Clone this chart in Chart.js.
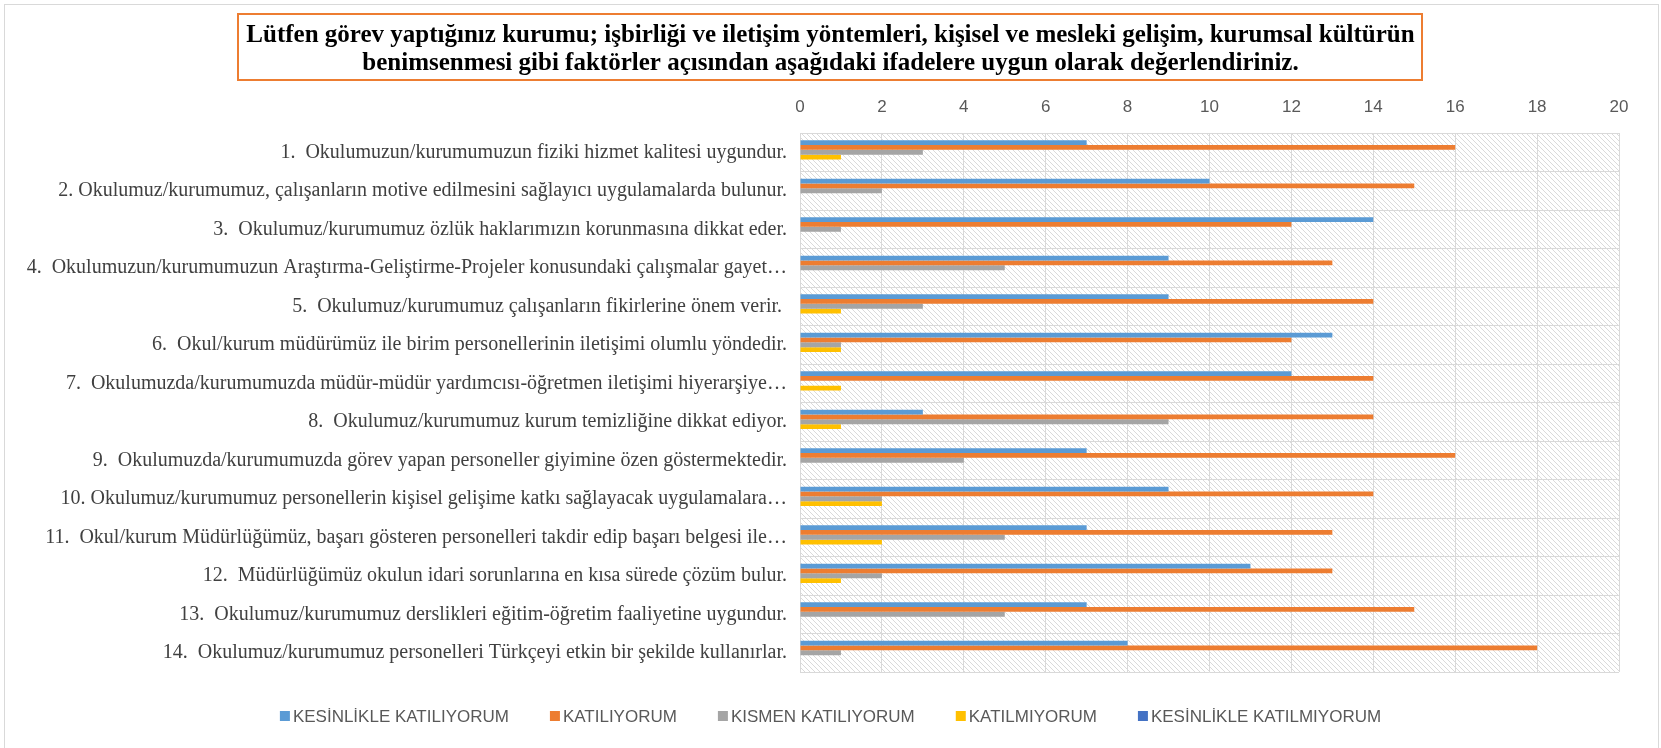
<!DOCTYPE html>
<html lang="tr">
<head>
<meta charset="utf-8">
<title>Kurum değerlendirmesi</title>
<script src="https://cdn.jsdelivr.net/npm/chart.js@4.4.1/dist/chart.umd.min.js"></script>
<style>
  html, body { margin: 0; padding: 0; background: #fff; }
  #wrap { width: 1661px; height: 748px; }
</style>
</head>
<body>
<div id="wrap"><canvas id="grafik" width="1661" height="748"></canvas></div>
<script>
// Anket sonuçları - 14 ifade, 5 seçenek

const basliklar = [
    'Lütfen görev yaptığınız kurumu; işbirliği ve iletişim yöntemleri, kişisel ve mesleki gelişim, kurumsal kültürün',
    'benimsenmesi gibi faktörler açısından aşağıdaki ifadelere uygun olarak değerlendiriniz.'
];

const ifadeler = [
    '1.  Okulumuzun/kurumumuzun fiziki hizmet kalitesi uygundur.',
    '2. Okulumuz/kurumumuz, çalışanların motive edilmesini sağlayıcı uygulamalarda bulunur.',
    '3.  Okulumuz/kurumumuz özlük haklarımızın korunmasına dikkat eder.',
    '4.  Okulumuzun/kurumumuzun Araştırma-Geliştirme-Projeler konusundaki çalışmalar gayet…',
    '5.  Okulumuz/kurumumuz çalışanların fikirlerine önem verir. ',
    '6.  Okul/kurum müdürümüz ile birim personellerinin iletişimi olumlu yöndedir.',
    '7.  Okulumuzda/kurumumuzda müdür-müdür yardımcısı-öğretmen iletişimi hiyerarşiye…',
    '8.  Okulumuz/kurumumuz kurum temizliğine dikkat ediyor.',
    '9.  Okulumuzda/kurumumuzda görev yapan personeller giyimine özen göstermektedir.',
    '10. Okulumuz/kurumumuz personellerin kişisel gelişime katkı sağlayacak uygulamalara…',
    '11.  Okul/kurum Müdürlüğümüz, başarı gösteren personelleri takdir edip başarı belgesi ile…',
    '12.  Müdürlüğümüz okulun idari sorunlarına en kısa sürede çözüm bulur.',
    '13.  Okulumuz/kurumumuz derslikleri eğitim-öğretim faaliyetine uygundur.',
    '14.  Okulumuz/kurumumuz personelleri Türkçeyi etkin bir şekilde kullanırlar.'
];

const secenekler = ['KESİNLİKLE KATILIYORUM', 'KATILIYORUM', 'KISMEN KATILIYORUM', 'KATILMIYORUM', 'KESİNLİKLE KATILMIYORUM'];
const renkler = ['#5B9BD5', '#ED7D31', '#A5A5A5', '#FFC000', '#4472C4'];

const kesinlikleKatiliyorum  = [7, 10, 14, 9, 9, 13, 12, 3, 7, 9, 7, 11, 7, 8];
const katiliyorum            = [16, 15, 12, 13, 14, 12, 14, 14, 16, 14, 13, 13, 15, 18];
const kismenKatiliyorum      = [3, 2, 1, 5, 3, 1, 0, 9, 4, 2, 5, 2, 5, 1];
const katilmiyorum           = [1, 0, 0, 0, 1, 1, 1, 1, 0, 2, 2, 1, 0, 0];
const kesinlikleKatilmiyorum = [0, 0, 0, 0, 0, 0, 0, 0, 0, 0, 0, 0, 0, 0];

const eksenMin = 0, eksenMax = 20, eksenAdim = 2;

const seriler = [kesinlikleKatiliyorum, katiliyorum, kismenKatiliyorum, katilmiyorum, kesinlikleKatilmiyorum];

// cerceve, tarama deseni, baslik kutusu ve lejant
const sablon = {
    id: 'sablon',
    beforeDraw(chart) {
        const c = chart.ctx, a = chart.chartArea;
        c.save();
        c.fillStyle = '#fff';
        c.fillRect(0, 0, chart.width, chart.height);
        c.strokeStyle = '#d9d9d9';
        c.lineWidth = 1;
        c.strokeRect(4.5, 4.5, chart.width - 7, chart.height + 10);
        // capraz tarama
        c.beginPath();
        c.rect(a.left, a.top, a.right - a.left, a.bottom - a.top);
        c.clip();
        c.strokeStyle = '#dadada';
        const h = a.bottom - a.top;
        c.beginPath();
        for (let k = -h; k < a.right - a.left; k += 5) {
            c.moveTo(a.left + k, a.top);
            c.lineTo(a.left + k + h, a.bottom);
        }
        c.stroke();
        c.restore();
    },
    afterDraw(chart) {
        const c = chart.ctx;
        const orta = chart.width / 2;
        c.save();
        // baslik
        c.font = 'bold 25px "Liberation Serif"';
        c.fillStyle = '#000';
        c.textAlign = 'center';
        c.textBaseline = 'alphabetic';
        const gen = Math.max(...basliklar.map(t => c.measureText(t).width));
        c.fillText(basliklar[0], orta, 42);
        c.fillText(basliklar[1], orta, 70);
        c.strokeStyle = '#ED7D31';
        c.lineWidth = 2;
        c.strokeRect(Math.round(orta - gen / 2 - 8), 14, Math.round(gen + 16), 66);

        // lejant
        c.font = '17px "Liberation Sans"';
        c.textAlign = 'left';
        c.textBaseline = 'middle';
        const kutu = 10, ara = 3, bosluk = 41, y = 716;
        const genislikler = secenekler.map(t => c.measureText(t).width);
        const toplam = genislikler.reduce((s, w) => s + kutu + ara + w, 0) + bosluk * (secenekler.length - 1);
        let x = orta - toplam / 2;
        secenekler.forEach((t, i) => {
            c.fillStyle = renkler[i];
            c.fillRect(x, y - kutu / 2, kutu, kutu);
            c.fillStyle = '#595959';
            c.fillText(t, x + kutu + ara, y + 1);
            x += kutu + ara + genislikler[i] + bosluk;
        });
        c.restore();
    }
};

const ctx = document.getElementById('grafik').getContext('2d');
new Chart(ctx, {
    type: 'bar',
    data: {
        labels: ifadeler,
        datasets: secenekler.map((ad, i) => ({
            label: ad,
            data: seriler[i],
            backgroundColor: renkler[i],
            borderWidth: 0,
            categoryPercentage: 0.62,
            barPercentage: 1.0
        }))
    },
    options: {
        indexAxis: 'y',
        responsive: false,
        animation: false,
        devicePixelRatio: 1,
        layout: { padding: { left: 0, right: 42, top: 90, bottom: 76 } },
        plugins: {
            legend: { display: false },
            title: { display: false },
            tooltip: { enabled: false }
        },
        scales: {
            x: {
                position: 'top',
                min: eksenMin,
                max: eksenMax,
                afterFit: s => { s.height = 43; },
                ticks: {
                    stepSize: eksenAdim,
                    padding: 15,
                    color: '#595959',
                    font: { family: 'Liberation Sans', size: 17 }
                },
                grid: { color: '#d9d9d9', drawTicks: false },
                border: { display: false }
            },
            y: {
                afterFit: s => { s.width = 800; },
                ticks: {
                    autoSkip: false,
                    padding: 13,
                    color: '#404040',
                    font: { family: 'Liberation Serif', size: 20 }
                },
                grid: { color: '#d9d9d9', drawTicks: false, offset: true },
                border: { display: false }
            }
        }
    },
    plugins: [sablon]
});
</script>
</body>
</html>
